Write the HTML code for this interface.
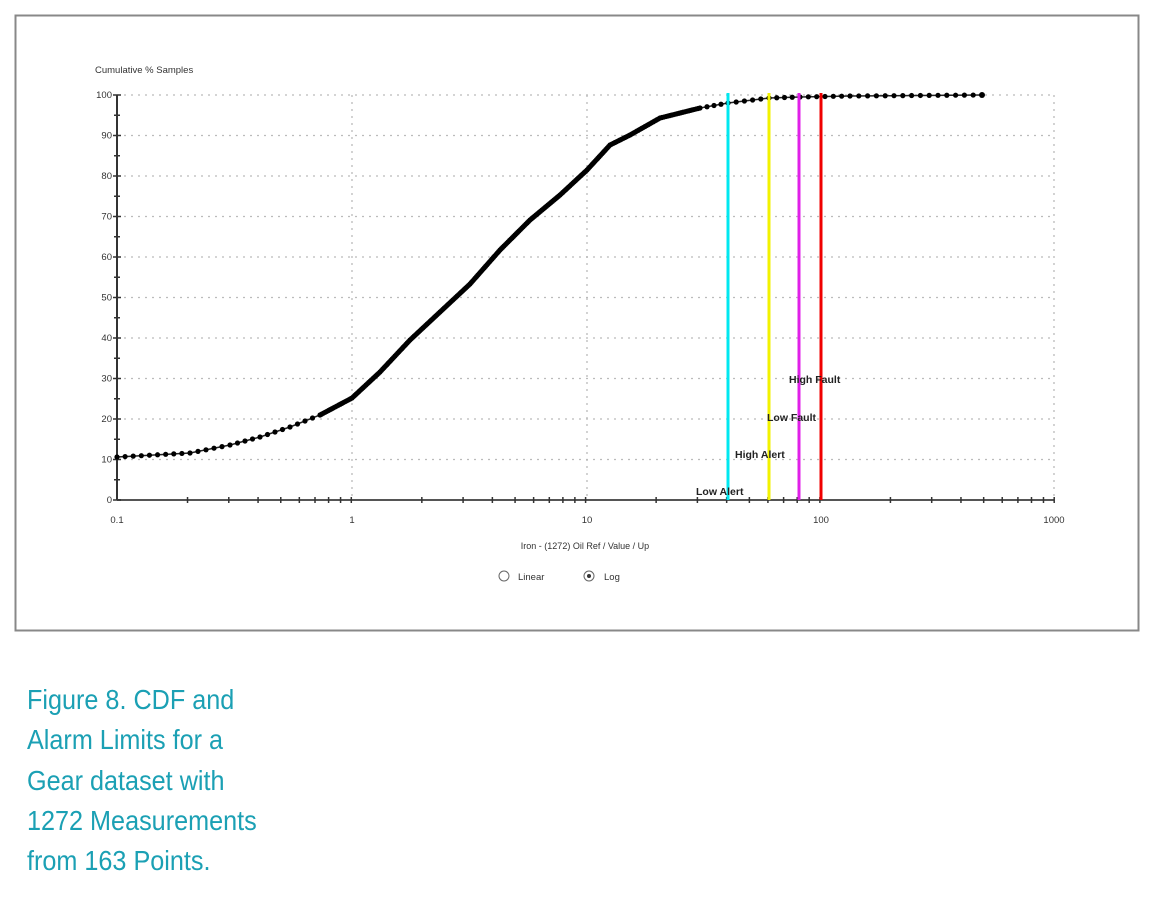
<!DOCTYPE html>
<html><head><meta charset="utf-8"><style>
body{margin:0;background:#fff;width:1155px;height:906px;overflow:hidden;position:relative;font-family:"Liberation Sans",sans-serif}
.cap{position:absolute;left:27px;top:680px;color:#1ba0b4;font-family:"Liberation Sans Narrow","Liberation Sans",sans-serif;font-size:28px;line-height:40.3px;transform:scaleX(0.9);transform-origin:0 0;white-space:nowrap}
</style></head><body>
<svg width="1155" height="906" style="position:absolute;left:0;top:0">
<rect x="15.5" y="15.5" width="1123" height="615" fill="#fff" stroke="#888" stroke-width="2"/>
<g font-size="9.5" fill="#333" font-family="Liberation Sans,sans-serif">
<text x="95" y="73">Cumulative % Samples</text>
<g id="grid" stroke="#bbb" stroke-dasharray="2,5" stroke-width="1.3"></g>
<g id="yl" text-anchor="end"></g>
<line x1="117" y1="95" x2="117" y2="500" stroke="#333" stroke-width="2"/>
<line x1="117" y1="500" x2="1054" y2="500" stroke="#555" stroke-width="2"/>
<g id="ticks" stroke="#333" stroke-width="1.5"></g>
<text x="117" y="523" text-anchor="middle">0.1</text>
<text x="352" y="523" text-anchor="middle">1</text>
<text x="587" y="523" text-anchor="middle">10</text>
<text x="821" y="523" text-anchor="middle">100</text>
<text x="1054" y="523" text-anchor="middle">1000</text>
<text x="585" y="549" text-anchor="middle" font-size="9">Iron - (1272)  Oil Ref / Value / Up</text>
<circle cx="504" cy="576" r="5" fill="#fff" stroke="#666"/>
<text x="518" y="580">Linear</text>
<circle cx="589" cy="576" r="5" fill="#fff" stroke="#666"/><circle cx="589" cy="576" r="2" fill="#333"/>
<text x="604" y="580">Log</text>
</g>
<polyline id="curve" fill="none" stroke="#222" stroke-width="1.5"/>
<g id="dots" fill="#000"></g>
<line x1="728" y1="93" x2="728" y2="500" stroke="#00e8f0" stroke-width="3"/>
<line x1="769" y1="93" x2="769" y2="500" stroke="#f2f200" stroke-width="3"/>
<line x1="799" y1="93" x2="799" y2="500" stroke="#e020e8" stroke-width="3"/>
<line x1="821" y1="93" x2="821" y2="500" stroke="#f00000" stroke-width="3"/>
<g font-size="10.5" font-weight="bold" fill="#222" font-family="Liberation Sans,sans-serif">
<text x="696" y="495">Low Alert</text>
<text x="735" y="458">High Alert</text>
<text x="767" y="421">Low Fault</text>
<text x="789" y="383">High Fault</text>
</g>
</svg>
<div class="cap">Figure 8. CDF and<br>Alarm Limits for a<br>Gear dataset with<br>1272 Measurements<br>from 163 Points.</div>
<script>
var ns="http://www.w3.org/2000/svg";
function el(p,t,a){var e=document.createElementNS(ns,t);for(var k in a)e.setAttribute(k,a[k]);document.getElementById(p).appendChild(e);return e;}
for(var v=0;v<=100;v+=10){var y=500-v*4.05;
 if(v>0)el("grid","line",{x1:117,y1:y,x2:1054,y2:y});
 var t=el("yl","text",{x:112,y:y+3});t.textContent=v;
 el("ticks","line",{x1:113,y1:y,x2:121,y2:y});
 if(v<100)el("ticks","line",{x1:114,y1:y-20.25,x2:120,y2:y-20.25});}
[352,587,821,1054].forEach(function(x){el("grid","line",{x1:x,y1:95,x2:x,y2:500});});
for(var d=0;d<4;d++)for(var m=2;m<=10;m++){var x=117+234.3*(d+Math.log10(m));el("ticks","line",{x1:x,y1:497,x2:x,y2:503});}
var P=[[117,457],[190,453],[230,445],[260,437],[290,427],[320,415],[352,398],[380,372],[410,340],[440,312],[470,284],[500,250],[530,220],[560,195],[587,170],[610,145],[630,135],[660,118],[700,108],[728,103],[769,98],[800,97],[850,96],[982,95]];
document.getElementById("curve").setAttribute("points",P.map(function(p){return p.join(",")}).join(" "));
for(var i=0;i<P.length-1;i++){var a=P[i],b=P[i+1],L=Math.hypot(b[0]-a[0],b[1]-a[1]);var n=Math.ceil(L/(a[0]<700&&a[0]>300?2:9));
 for(var j=0;j<n;j++){var f=j/n;el("dots","circle",{cx:a[0]+(b[0]-a[0])*f,cy:a[1]+(b[1]-a[1])*f,r:2.6});}}
el("dots","circle",{cx:982,cy:95,r:3});
</script>
</body></html>
